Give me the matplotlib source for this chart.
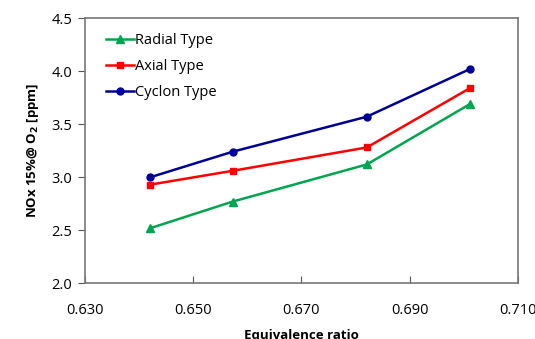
import matplotlib
matplotlib.use("Agg")
import matplotlib.pyplot as plt

x = [0.6421, 0.6573, 0.6821, 0.7012]
radial = [2.52, 2.77, 3.12, 3.69]
axial = [2.93, 3.06, 3.28, 3.84]
cyclon = [3.00, 3.24, 3.57, 4.02]
xticks = [0.630, 0.650, 0.670, 0.690, 0.710]
yticks = [2.0, 2.5, 3.0, 3.5, 4.0, 4.5]

plt.rcParams['font.family'] = ['Open Sans', 'DejaVu Sans']
fig = plt.figure(figsize=(5.35, 3.39), dpi=100)
ax = fig.add_axes([85/535, 1-283.3/339, (517.7-85)/535, (283.3-18)/339])

ax.plot(x, radial, color='#00a550', marker='^', markersize=5.5, lw=1.8, label='Radial Type')
ax.plot(x, axial, color='#ff0000', marker='s', markersize=4.5, lw=1.8, label='Axial Type')
ax.plot(x, cyclon, color='#000099', marker='o', markersize=5, lw=1.8, label='Cyclon Type')

ax.set_xlim(0.630, 0.710)
ax.set_ylim(2.0, 4.5)
ax.set_xticks(xticks)
ax.set_xticklabels([f"{t:.3f}" for t in xticks])
ax.set_yticks(yticks)
ax.set_yticklabels([f"{t:.1f}" for t in yticks])
ax.tick_params(axis='x', direction='in', length=5, labelsize=10.5, pad=14, color='#555555')
ax.tick_params(axis='y', direction='out', length=5, labelsize=10.5, pad=4, color='#555555')
for s in ax.spines.values():
    s.set_color('#777777')
    s.set_linewidth(1.2)

ax.set_xlabel('Equivalence ratio', fontweight='bold', fontsize=9.5, labelpad=8)
ax.set_ylabel('NOx 15%@ O$_\\mathbf{2}$ [ppm]', fontweight='bold', fontsize=9.5, labelpad=8)

leg = ax.legend(loc='upper left', bbox_to_anchor=(0.035, 0.965), frameon=False, fontsize=10.5,
                handlelength=1.9, handletextpad=0.1, labelspacing=0.75, borderaxespad=0)

fig.savefig('out.png', dpi=100)
